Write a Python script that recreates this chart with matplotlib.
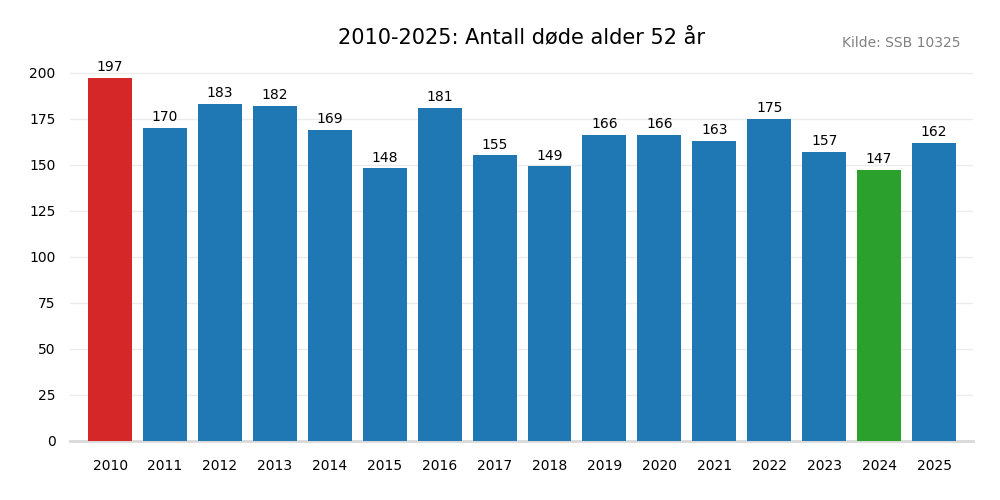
import matplotlib
matplotlib.use("Agg")
import matplotlib.pyplot as plt

# === Data ===
years = [2010, 2011, 2012, 2013, 2014, 2015, 2016, 2017,
         2018, 2019, 2020, 2021, 2022, 2023, 2024, 2025]
deaths = [197, 170, 183, 182, 169, 148, 181, 155,
          149, 166, 166, 163, 175, 157, 147, 162]

# highest red, lowest green, the rest blue
colors = []
for v in deaths:
    if v == max(deaths):
        colors.append('#d62728')
    elif v == min(deaths):
        colors.append('#2ca02c')
    else:
        colors.append('#1f77b4')

fig = plt.figure(figsize=(10, 5), dpi=100)
ax = fig.add_axes([0.07, 0.118, 0.903, 0.772])

x = list(range(len(years)))
bars = ax.bar(x, deaths, width=0.8, color=colors, zorder=3)

for xi, v in zip(x, deaths):
    ax.text(xi, v + 2, str(v), ha='center', va='bottom', fontsize=10, color='black')

ax.set_xticks(x)
ax.set_xticklabels([str(y) for y in years], fontsize=10)
ax.set_yticks(range(0, 201, 25))
ax.tick_params(axis='y', labelsize=10, length=0, pad=10.5)
ax.tick_params(axis='x', length=0, pad=13)
ax.set_xlim(-0.73, 15.71)
ax.set_ylim(0, 209.5)

ax.grid(axis='y', color='#ebebeb', linewidth=1, zorder=0)
for s in ['top', 'right', 'left']:
    ax.spines[s].set_visible(False)
ax.spines['bottom'].set_color('#d9d9d9')
ax.spines['bottom'].set_linewidth(2)

fig.text(0.521, 0.926, '2010-2025: Antall døde alder 52 år', ha='center', va='center', fontsize=15)
fig.text(0.96, 0.914, 'Kilde: SSB 10325', ha='right', va='center', fontsize=10, color='gray')

fig.savefig('out.png', dpi=100)
